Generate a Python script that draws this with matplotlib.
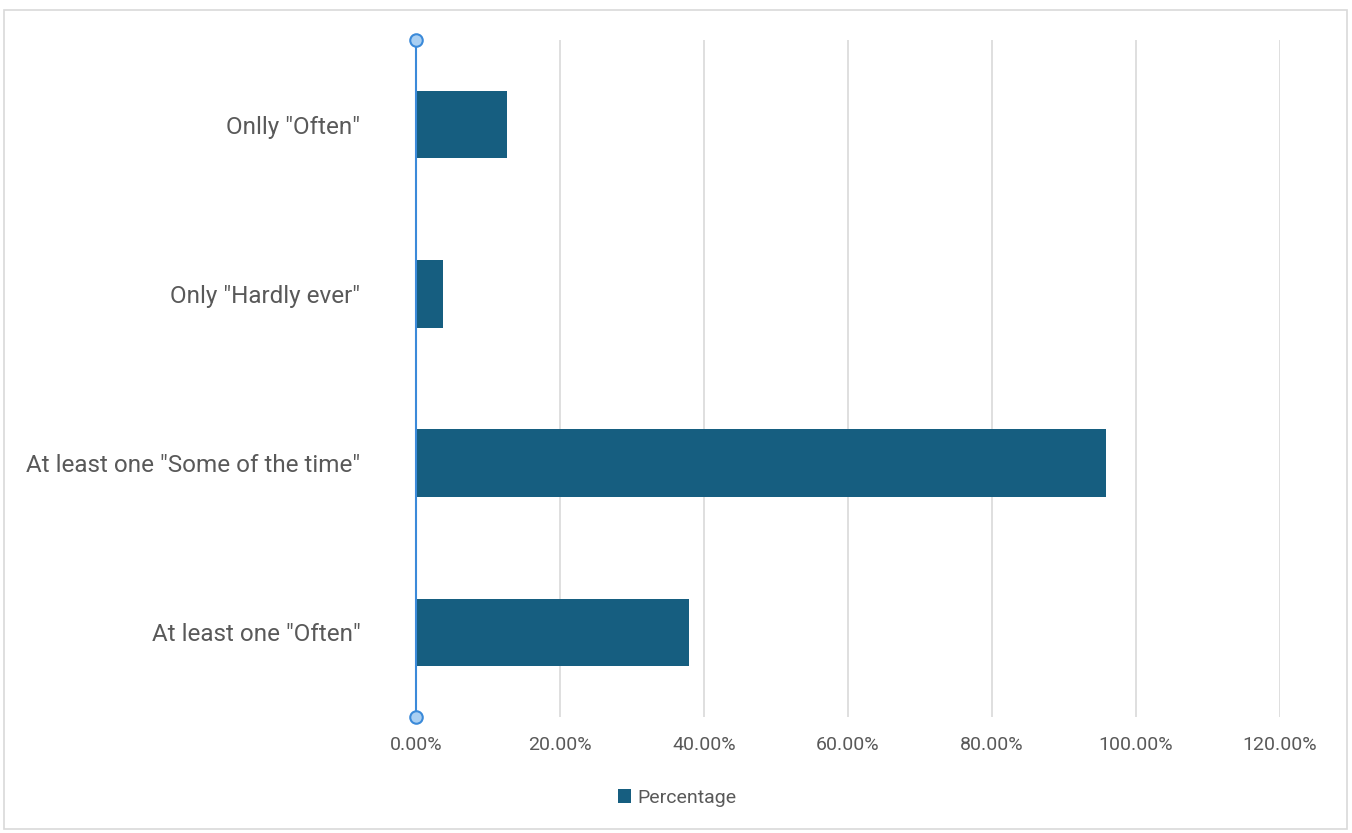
import matplotlib
matplotlib.use("Agg")
import matplotlib.pyplot as plt
from matplotlib.patches import Rectangle
from matplotlib.ticker import FuncFormatter, MultipleLocator

categories = ['At least one "Often"', 'At least one "Some of the time"',
              'Only "Hardly ever"', 'Onlly "Often"']
percentages = [0.379, 0.959, 0.038, 0.127]
series_name = "Percentage"

plt.rcParams['font.family'] = ['Liberation Sans Narrow', 'Roboto', 'DejaVu Sans']

W, H = 1352, 833
fig = plt.figure(figsize=(W / 100, H / 100), dpi=100)

# outer chart frame
fig.patches.append(Rectangle((4 / W, 1 - 829 / H), 1343 / W, 819 / H,
                             transform=fig.transFigure, fill=False,
                             edgecolor="#d9d9d9", linewidth=1.2))

left, right, top, bottom = 416, 1280, 40, 717
ax = fig.add_axes([left / W, 1 - bottom / H, (right - left) / W, (bottom - top) / H])

bar_color = "#165e80"
ax.barh(range(len(categories)), percentages, height=0.4, color=bar_color,
        label=series_name, zorder=3)

ax.set_xlim(0, 1.2)
ax.set_ylim(-0.5, len(categories) - 0.5)
ax.xaxis.set_major_locator(MultipleLocator(0.2))
ax.xaxis.set_major_formatter(FuncFormatter(lambda v, p: f"{v * 100:.2f}%"))
ax.grid(axis="x", color="#d9d9d9", linewidth=1.2, zorder=0)
ax.set_yticks(range(len(categories)))
ax.set_yticklabels(categories)

for s in ["top", "right", "bottom"]:
    ax.spines[s].set_visible(False)
ax.spines["left"].set_color("#3b8ad9")
ax.spines["left"].set_linewidth(1.5)
ax.spines["left"].set_zorder(4)

ax.tick_params(axis="x", length=0, pad=14, labelsize=14, labelcolor="#595959")
ax.tick_params(axis="y", length=0, pad=40, labelsize=17.5, labelcolor="#595959")

# handles at the ends of the vertical axis
ax.plot([0, 0], [-0.5, len(categories) - 0.5], linestyle="none", marker="o",
        markersize=9, markerfacecolor="#a9cff2", markeredgecolor="#3b8ad9",
        markeredgewidth=1.5, clip_on=False, zorder=5)

fig.legend(loc="center", bbox_to_anchor=(677 / W, 1 - 798 / H), frameon=False,
           fontsize=14, labelcolor="#595959", handlelength=0.7, handleheight=0.7,
           handletextpad=0.3)

fig.savefig("out.png", dpi=100, facecolor="white")
